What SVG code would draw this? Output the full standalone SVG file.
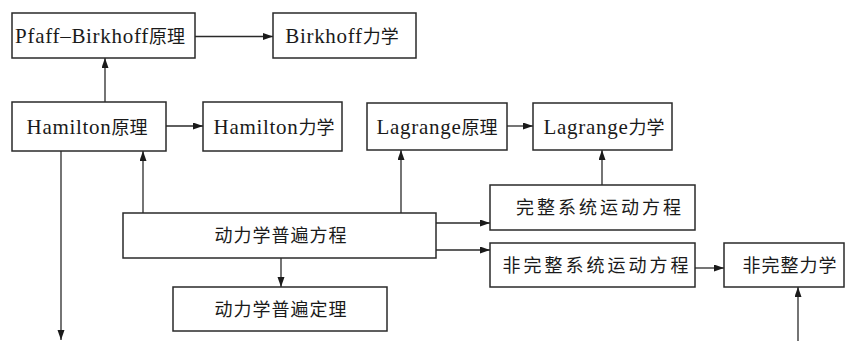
<svg xmlns="http://www.w3.org/2000/svg" width="845" height="341" viewBox="0 0 845 341">
<style>
.box{fill:#fff;stroke:#2a2a2a;stroke-width:1.5}
.t{font-family:"Liberation Serif","Noto Sans CJK SC",serif;font-size:21px;fill:#1a1a1a;text-anchor:middle}
.c{font-family:"Noto Sans CJK SC","Liberation Serif",sans-serif;font-size:18px}
.l{letter-spacing:0.7px}
.edge{fill:none;stroke:#2a2a2a;stroke-width:1.3;marker-end:url(#ah)}
</style>
<defs>
<marker id="ah" markerUnits="userSpaceOnUse" markerWidth="10" markerHeight="8" refX="10" refY="3.5" orient="auto">
<path d="M0,0 L10,3.5 L0,7 z" fill="#1a1a1a"/>
</marker>
</defs>
<g id="connectors">
<path class="edge" d="M195,36.5 H273"/>
<path class="edge" d="M105,102 V58"/>
<path class="edge" d="M166,126 H203"/>
<path class="edge" d="M61,151 V340"/>
<path class="edge" d="M143,213 V151"/>
<path class="edge" d="M401,213 V150"/>
<path class="edge" d="M507,126 H533"/>
<path class="edge" d="M602,185 V150"/>
<path class="edge" d="M436,223 H490"/>
<path class="edge" d="M436,250 H490"/>
<path class="edge" d="M281,258 V287"/>
<path class="edge" d="M695,268 H724"/>
<path class="edge" d="M798,341 V287"/>
</g>
<g id="pfaff">
<rect class="box" x="12" y="13" width="183" height="45"/>
<text class="t" x="100" y="43"><tspan class="l">Pfaff–Birkhoff</tspan><tspan class="c">原理</tspan></text>
</g>
<g id="birkhoff">
<rect class="box" x="273" y="13" width="143" height="45"/>
<text class="t" x="342" y="43"><tspan class="l">Birkhoff</tspan><tspan class="c">力学</tspan></text>
</g>
<g id="hamilton-principle">
<rect class="box" x="12" y="102" width="154" height="49"/>
<text class="t" x="87" y="134"><tspan class="l">Hamilton</tspan><tspan class="c">原理</tspan></text>
</g>
<g id="hamilton-mechanics">
<rect class="box" x="203" y="102" width="139" height="49"/>
<text class="t" x="274" y="134"><tspan class="l">Hamilton</tspan><tspan class="c">力学</tspan></text>
</g>
<g id="lagrange-principle">
<rect class="box" x="367" y="103" width="140" height="47"/>
<text class="t" x="437" y="134"><tspan class="l">Lagrange</tspan><tspan class="c">原理</tspan></text>
</g>
<g id="lagrange-mechanics">
<rect class="box" x="533" y="103" width="139" height="47"/>
<text class="t" x="604" y="134"><tspan class="l">Lagrange</tspan><tspan class="c">力学</tspan></text>
</g>
<g id="holonomic-eq">
<rect class="box" x="490" y="185" width="205" height="45"/>
<text class="t c" x="600" y="214" style="letter-spacing:3px">完整系统运动方程</text>
</g>
<g id="general-eq">
<rect class="box" x="123" y="213" width="313" height="45"/>
<text class="t c" x="281" y="242" style="letter-spacing:1px">动力学普遍方程</text>
</g>
<g id="nonholonomic-eq">
<rect class="box" x="490" y="243" width="205" height="44"/>
<text class="t c" x="597" y="272" style="letter-spacing:3px">非完整系统运动方程</text>
</g>
<g id="nonholonomic-mechanics">
<rect class="box" x="724" y="243" width="120" height="44"/>
<text class="t c" x="790" y="272" style="letter-spacing:1px">非完整力学</text>
</g>
<g id="general-theorem">
<rect class="box" x="173" y="287" width="214" height="44"/>
<text class="t c" x="281" y="316" style="letter-spacing:1px">动力学普遍定理</text>
</g>
</svg>
